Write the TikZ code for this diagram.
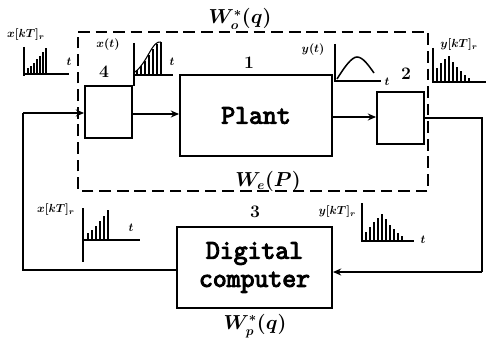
\documentclass[tikz,border=0pt]{standalone}
\usepackage{fontspec}
\newfontfamily\slabfont{Latin Modern Mono}[FakeBold=4]
\usetikzlibrary{arrows.meta}
\begin{document}
\begin{tikzpicture}[x=0.03cm,y=-0.03cm,
  blk/.style={draw,line width=1.7pt,inner sep=0pt},
  wire/.style={line width=1.7pt},
  arr/.style={wire,-{Stealth[length=7pt,width=6pt]}},
  frame/.style={line width=1.5pt,dash pattern=on 10pt off 5pt},
  ax/.style={line width=1.3pt},
  bar/.style={line width=1.1pt},
  sig/.style={font=\boldmath\fontsize{10}{11}\selectfont},
  num/.style={font=\bfseries\fontsize{15}{17}\selectfont},
  tf/.style={font=\boldmath\fontsize{16}{18}\selectfont},
  big/.style={font=\slabfont\fontsize{23}{24}\selectfont,align=center}]
\useasboundingbox (0,0) rectangle (486,341);
% dashed frame
\draw[frame] (78,32) -- (428,32) -- (428,191) -- (78,191) -- cycle;
% blocks
\node[blk,minimum width=47*0.03cm,minimum height=52*0.03cm] (b4) at (108.5,112) {};
\node[blk,big,minimum width=152*0.03cm,minimum height=81*0.03cm] (plant) at (256,115.5) {Plant};
\node[blk,minimum width=47*0.03cm,minimum height=52*0.03cm] (b2) at (400.5,118) {};
\node[blk,big,minimum width=155*0.03cm,minimum height=81*0.03cm] (comp) at (254.5,267.5) {Digital\\computer};
% connectors
\coordinate (r1) at (482,118);
\coordinate (r2) at (482,272);
\coordinate (l1) at (23,270);
\coordinate (l2) at (23,113);
\draw[arr] (b4.east |- 0,114) -- (plant.west |- 0,114);
\draw[arr] (plant.east |- 0,117) -- (b2.west |- 0,117);
\draw[wire] (b2.east |- r1) -- (r1) -- (r2);
\draw[arr] (r2) -- (comp.east |- r2);
\draw[wire] (comp.west |- l1) -- (l1) -- (l2);
\draw[arr] (l2) -- (b4.west |- l2);
% labels
\node[tf] (wo) at (240,19) {$W^{*}_{o}(q)$};
\node[tf] (we) at (268,181) {$W_{e}(P)$};
\node[tf] (wp) at (255,326) {$W^{*}_{p}(q)$};
\node[num] (n4) at (104,72) {4};
\node[num] (n1) at (249,63) {1};
\node[num] (n2) at (406,74) {2};
\node[num] (n3) at (255,212) {3};
% plot 1: x[kT]_r top-left
\node[sig] (s1) at (26,35) {$x[kT]_r$};
\draw[ax] (24,47) -- (24,76);
\draw[ax] (24,74) -- (69,74);
\foreach \x/\t in {28/68,31/66,34/63,37/59,40/56,43/52,46/48}
  \draw[bar] (\x,74) -- (\x,\t);
\node[sig] (t1) at (69,62) {$t$};
% plot 2: x(t)
\node[sig] (s2) at (108,45) {$x(t)$};
\draw[ax] (134,43) -- (134,86);
\draw[ax] (134,75) -- (173,75);
\foreach \x/\t in {137/70,141/66,145/61,149/55,153/49,157/44,161/42}
  \draw[bar] (\x,75) -- (\x,\t);
\draw[line width=0.9pt] (135,72) .. controls (148,62) and (152,40) .. (161,42);
\node[sig] (t2) at (172,62) {$t$};
% plot 3: y(t)
\node[sig] (s3) at (313,50) {$y(t)$};
\draw[ax] (335,44) -- (335,82);
\draw[ax] (335,81) -- (381,81);
\draw[line width=1.3pt] (337,79) .. controls (345,66) and (352,57) .. (357,57) .. controls (363,57) and (369,66) .. (374,73);
\node[sig] (t3) at (387,82) {$t$};
% plot 4: y[kT]_r top-right
\node[sig] (s4) at (459,45) {$y[kT]_r$};
\draw[ax] (433,48) -- (433,83);
\draw[ax] (433,82) -- (486,82);
\foreach \x/\t in {437/68,441/63,445/59,449/56,453/62,457/67,461/71,465/75,469/78}
  \draw[bar] (\x,82) -- (\x,\t);
% plot 5: x[kT]_r bottom-left
\node[sig] (s5) at (56,210) {$x[kT]_r$};
\draw[ax] (83,208) -- (83,262);
\draw[ax] (83,240) -- (140,240);
\foreach \x/\t in {88/233,92/230,96/226,100/221,104/216,108/210}
  \draw[bar] (\x,240) -- (\x,\t);
\node[sig] (t5) at (131,228) {$t$};
% plot 6: y[kT]_r bottom-right
\node[sig,anchor=east] (s6) at (360,212) {$y[kT]_r$};
\draw[ax] (362,203) -- (362,242);
\draw[ax] (362,241) -- (414,241);
\foreach \x/\t in {366/232,370/227,374/222,378/218,382/214,386/219,390/225,394/229,398/233,402/236}
  \draw[bar] (\x,241) -- (\x,\t);
\node[sig] (t6) at (423,240) {$t$};
\end{tikzpicture}
\end{document}
